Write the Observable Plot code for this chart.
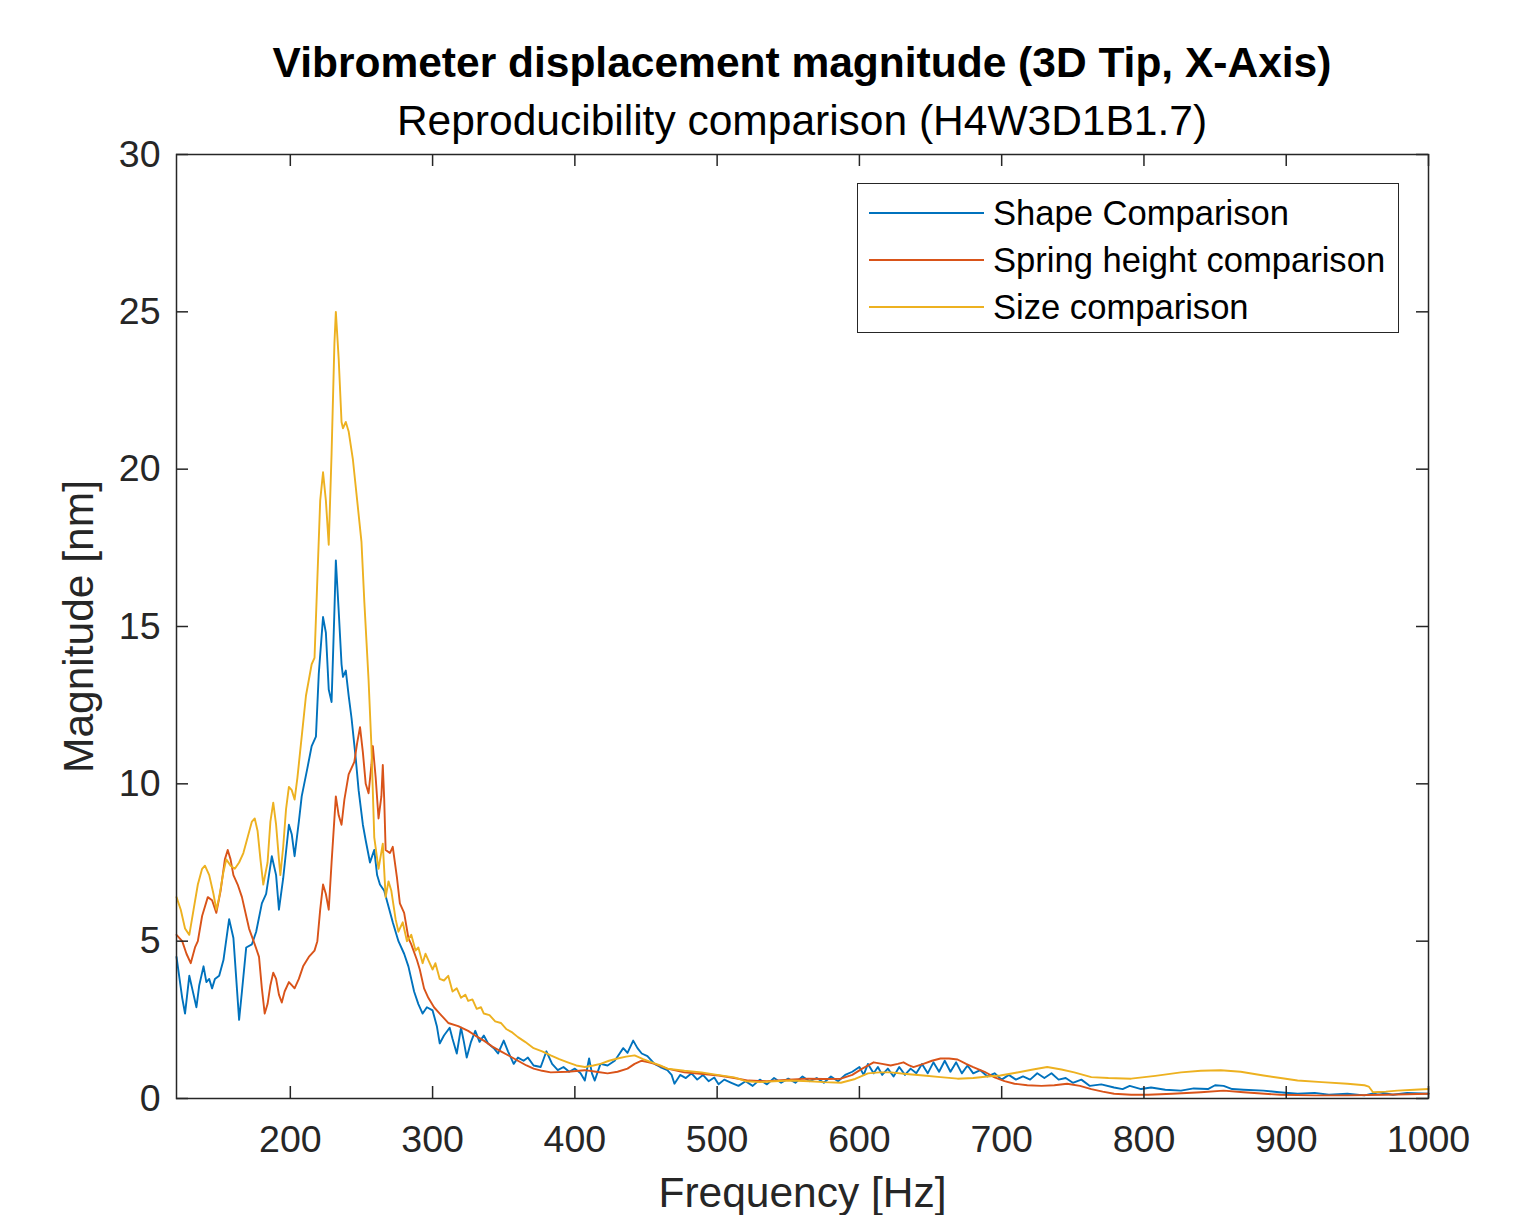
<!DOCTYPE html>
<html>
<head>
<meta charset="utf-8">
<script src="https://cdn.jsdelivr.net/npm/d3@7"></script>
<script src="https://cdn.jsdelivr.net/npm/@observablehq/plot@0.6"></script>
<style>
  html, body { margin: 0; padding: 0; background: #fff; }
  body { width: 1527px; height: 1215px; overflow: hidden; position: relative; font-family: "Liberation Sans", Arial, Helvetica, sans-serif; }
  #header { position: relative; width: 1527px; height: 140px; }
  .title { position: absolute; left: 176px; width: 1252px; text-align: center; white-space: nowrap; color: #000; }
  #t1 { top: 42px; font-size: 42.5px; line-height: 42.5px; font-weight: bold; }
  #t2 { top: 100px; font-size: 42.5px; line-height: 42.5px; font-weight: normal; }
  #legend { position: absolute; left: 857px; top: 183px; width: 540px; height: 148px; border: 1.5px solid #262626; background: #fff; }
  .lrow { position: absolute; left: 0; height: 35px; width: 540px; }
  .lline { position: absolute; left: 11px; width: 115px; height: 2px; top: 16px; }
  .ltext { position: absolute; left: 135px; top: 0; font-size: 34.6px; line-height: 35px; color: #000; white-space: nowrap; }
  svg { display: block; }
</style>
</head>
<body>
<div id="header">
  <div class="title" id="t1">Vibrometer displacement magnitude (3D Tip, X-Axis)</div>
  <div class="title" id="t2">Reproducibility comparison (H4W3D1B1.7)</div>
</div>
<div id="chart"></div>
<div id="legend"></div>
<script>
// ---- data ----
const seriesNames = ["Shape Comparison", "Spring height comparison", "Size comparison"];
const seriesColors = ["#0072BD", "#D95319", "#EDB120"];

const shapeFreq = [120,124,126,129,131,134,136,139,141,143,145,147,150,153,157,160,162,164,166,169,173,176,180,183,187,190,192,195,199,201,203,206,208,212,215,218,220,223,225,227,229,231,232,234,236,237,239,241,243,246,248,251,253,256,259,261,263,266,269,272,276,280,283,287,290,293,296,300,303,305,308,312,314,317,320,322,324,327,330,333,336,339,343,346,350,353,357,360,364,367,371,376,380,384,388,392,396,400,404,407,410,412,414,418,423,428,431,434,437,441,444,447,451,456,460,465,468,470,474,478,482,486,490,494,498,501,505,510,515,520,525,530,535,540,545,550,555,560,565,570,575,580,585,590,595,600,603,606,610,613,616,620,624,628,632,636,640,644,648,652,656,660,664,668,672,676,680,685,690,695,700,705,710,715,720,725,730,735,740,745,750,756,762,770,779,785,790,798,805,815,826,835,845,850,856,862,870,884,895,908,920,930,943,955,965,975,985,1000];
const shapeMag = [4.5,3.2,2.7,3.9,3.5,2.9,3.6,4.2,3.7,3.8,3.5,3.8,3.9,4.4,5.7,5.1,3.8,2.5,3.4,4.8,4.9,5.3,6.2,6.5,7.7,7.1,6.0,7.0,8.7,8.4,7.7,8.8,9.6,10.5,11.2,11.5,13.5,15.3,14.8,13.0,12.6,15.5,17.1,15.5,13.8,13.4,13.6,12.8,12.1,10.8,9.8,8.7,8.2,7.5,7.9,7.1,6.8,6.6,6.1,5.6,5.0,4.6,4.2,3.4,3.0,2.7,2.9,2.8,2.3,1.75,2.0,2.25,1.9,1.43,2.25,1.8,1.3,1.8,2.15,1.8,2.0,1.75,1.6,1.43,1.84,1.5,1.1,1.3,1.2,1.3,1.05,1.0,1.5,1.1,0.9,1.0,0.85,0.95,0.8,0.57,1.27,0.8,0.57,1.1,1.05,1.2,1.4,1.6,1.45,1.84,1.6,1.43,1.35,1.1,1.0,0.9,0.75,0.47,0.75,0.65,0.8,0.6,0.75,0.55,0.67,0.45,0.6,0.5,0.4,0.55,0.4,0.6,0.45,0.65,0.5,0.63,0.5,0.7,0.55,0.65,0.5,0.7,0.55,0.75,0.85,1.0,0.75,1.1,0.8,1.0,0.75,0.95,0.7,1.0,0.75,0.95,0.8,1.1,0.8,1.15,0.85,1.2,0.85,1.15,0.8,1.05,0.8,0.9,0.7,0.8,0.6,0.75,0.6,0.7,0.6,0.8,0.65,0.8,0.6,0.65,0.5,0.6,0.4,0.45,0.35,0.3,0.4,0.3,0.35,0.28,0.25,0.32,0.3,0.42,0.4,0.3,0.28,0.25,0.2,0.15,0.18,0.12,0.15,0.1,0.2,0.12,0.18,0.15];

const springFreq = [120,124,127,130,133,135,138,142,145,148,151,154,156,158,160,163,166,169,171,175,178,180,182,184,186,188,190,192,194,196,199,201,203,206,209,213,217,219,221,223,225,227,229,232,234,236,238,241,245,247,249,251,253,255,257,258,260,262,264,265,266,267,270,272,275,277,280,283,285,289,291,294,297,301,305,311,318,325,330,336,342,348,354,360,366,371,377,383,395,407,415,423,430,437,442,447,452,456,465,477,490,501,512,522,535,550,564,575,587,595,602,610,616,622,627,631,635,638,645,651,657,663,669,675,680,688,695,702,709,718,728,737,746,755,763,771,779,791,803,820,840,856,870,885,896,920,943,970,1000];
const springMag = [5.2,5.0,4.6,4.3,4.8,5.0,5.8,6.4,6.3,5.9,6.6,7.6,7.9,7.6,7.1,6.8,6.4,5.8,5.4,4.9,4.5,3.5,2.7,3.0,3.6,4.0,3.8,3.3,3.05,3.4,3.7,3.6,3.5,3.8,4.2,4.5,4.7,5.0,6.0,6.8,6.5,6.0,7.5,9.6,9.0,8.7,9.5,10.3,10.7,11.3,11.8,11.0,10.0,9.7,10.6,11.2,10.2,8.9,9.6,10.6,9.5,7.9,7.8,8.0,7.0,6.2,5.9,5.1,4.9,4.4,4.1,3.5,3.2,2.9,2.7,2.4,2.3,2.15,2.0,1.84,1.65,1.5,1.35,1.2,1.05,0.95,0.88,0.83,0.85,0.9,0.85,0.8,0.85,0.95,1.1,1.2,1.15,1.1,0.95,0.83,0.78,0.73,0.65,0.57,0.55,0.6,0.63,0.62,0.63,0.75,0.95,1.15,1.1,1.05,1.1,1.15,1.05,1.0,1.1,1.2,1.27,1.27,1.24,1.1,1.0,0.85,0.67,0.55,0.47,0.42,0.4,0.42,0.47,0.4,0.3,0.22,0.15,0.12,0.12,0.15,0.2,0.25,0.2,0.15,0.12,0.1,0.1,0.12,0.15];

const sizeFreq = [120,123,126,129,132,135,138,140,143,146,148,150,153,155,158,161,164,167,170,173,175,177,179,181,184,186,188,190,192,193,195,197,199,201,203,205,208,211,215,217,219,221,223,225,227,229,231,232,234,236,237,239,241,244,247,250,252,255,257,259,262,265,267,269,271,274,276,279,282,285,288,290,293,295,297,300,302,305,308,311,314,317,320,323,325,328,331,334,336,340,344,348,352,356,360,365,371,377,383,389,395,401,407,413,418,424,430,436,442,448,454,460,465,477,489,500,512,520,530,540,552,565,575,587,597,606,614,622,633,645,657,669,680,690,699,710,722,732,742,751,763,775,791,808,826,840,854,868,884,896,908,925,943,955,958,961,970,978,990,1000];
const sizeMag = [6.4,6.0,5.4,5.2,6.0,6.8,7.3,7.4,7.1,6.5,6.0,6.4,7.2,7.6,7.4,7.3,7.5,7.8,8.3,8.8,8.9,8.5,7.6,6.8,7.5,8.8,9.4,8.7,7.6,7.1,8.0,9.2,9.9,9.8,9.5,10.2,11.5,12.8,13.8,14.0,16.5,19.0,19.9,19.0,17.6,20.5,24.0,25.0,23.5,21.5,21.3,21.5,21.2,20.3,19.0,17.7,15.8,13.3,11.2,8.3,7.3,8.1,6.4,6.9,6.6,5.7,5.3,5.6,5.0,5.2,4.7,4.8,4.3,4.6,4.4,4.1,4.3,3.8,3.75,3.9,3.4,3.5,3.2,3.3,3.1,3.15,2.85,2.9,2.7,2.65,2.45,2.4,2.2,2.1,1.95,1.8,1.6,1.5,1.37,1.25,1.15,1.05,1.0,1.05,1.1,1.2,1.27,1.33,1.37,1.25,1.15,1.05,0.95,0.88,0.83,0.75,0.67,0.55,0.52,0.55,0.57,0.55,0.52,0.5,0.62,0.8,0.83,0.83,0.78,0.73,0.68,0.63,0.65,0.7,0.73,0.82,0.92,1.0,0.92,0.83,0.68,0.65,0.63,0.72,0.83,0.88,0.9,0.85,0.73,0.65,0.57,0.52,0.47,0.42,0.38,0.2,0.22,0.25,0.28,0.3];

const xTicks = [200,300,400,500,600,700,800,900,1000];
const yTicks = [0,5,10,15,20,25,30];
const xLabel = "Frequency [Hz]";
const yLabel = "Magnitude [nm]";

// ---- build table ----
const rows = [];
[[shapeFreq, shapeMag], [springFreq, springMag], [sizeFreq, sizeMag]].forEach(([f, m], i) => {
  f.forEach((fv, j) => rows.push({series: seriesNames[i], freq: fv, mag: m[j]}));
});

const W = 1527, H = 1075;
const mL = 176, mR = 99, mT = 14, mB = 117;
const plotW = W - mL - mR, plotH = H - mT - mB;
const axisColor = "#262626";
const tickLen = 12;
const font = "'Liberation Sans', Arial, Helvetica, sans-serif";

const chart = Plot.plot({
  width: W,
  height: H,
  marginLeft: mL, marginRight: mR, marginTop: mT, marginBottom: mB,
  style: {fontFamily: font, background: "#fff", overflow: "visible"},
  x: {domain: [120, 1000]},
  y: {domain: [0, 30]},
  color: {domain: seriesNames, range: seriesColors},
  marks: [
    Plot.lineY(rows, {x: "freq", y: "mag", stroke: "series", z: "series", strokeWidth: 1.9, curve: "linear"}),
    // inward ticks, bottom & top
    Plot.tickX(xTicks, {x: d => d, stroke: axisColor, strokeWidth: 1.5, insetTop: plotH - tickLen}),
    Plot.tickX(xTicks, {x: d => d, stroke: axisColor, strokeWidth: 1.5, insetBottom: plotH - tickLen}),
    // inward ticks, left & right
    Plot.tickY(yTicks, {y: d => d, stroke: axisColor, strokeWidth: 1.5, insetRight: plotW - tickLen}),
    Plot.tickY(yTicks, {y: d => d, stroke: axisColor, strokeWidth: 1.5, insetLeft: plotW - tickLen}),
    Plot.axisX(xTicks, {anchor: "bottom", tickSize: 0, tickPadding: 27, fontSize: 37.5, color: axisColor, label: null, tickFormat: d => String(d)}),
    Plot.axisY(yTicks, {anchor: "left", tickSize: 0, tickPadding: 16, fontSize: 37.5, color: axisColor, label: null, tickFormat: d => String(d)}),
    Plot.frame({stroke: axisColor, strokeWidth: 1.5}),
    Plot.text([xLabel], {text: d => d, frameAnchor: "bottom", textAnchor: "middle", dy: 95, fontSize: 42.5, fill: axisColor, lineAnchor: "middle"}),
    Plot.text([yLabel], {text: d => d, frameAnchor: "left", textAnchor: "middle", dx: -97, rotate: -90, fontSize: 42.5, fill: axisColor, lineAnchor: "middle"})
  ]
});
document.getElementById("chart").appendChild(chart);

// legend
const leg = document.getElementById("legend");
seriesNames.forEach((name, i) => {
  const row = document.createElement("div");
  row.className = "lrow";
  row.style.top = (12 + i * 47) + "px";
  const line = document.createElement("div");
  line.className = "lline";
  line.style.background = seriesColors[i];
  const txt = document.createElement("div");
  txt.className = "ltext";
  txt.textContent = name;
  row.appendChild(line);
  row.appendChild(txt);
  leg.appendChild(row);
});
</script>
</body>
</html>
